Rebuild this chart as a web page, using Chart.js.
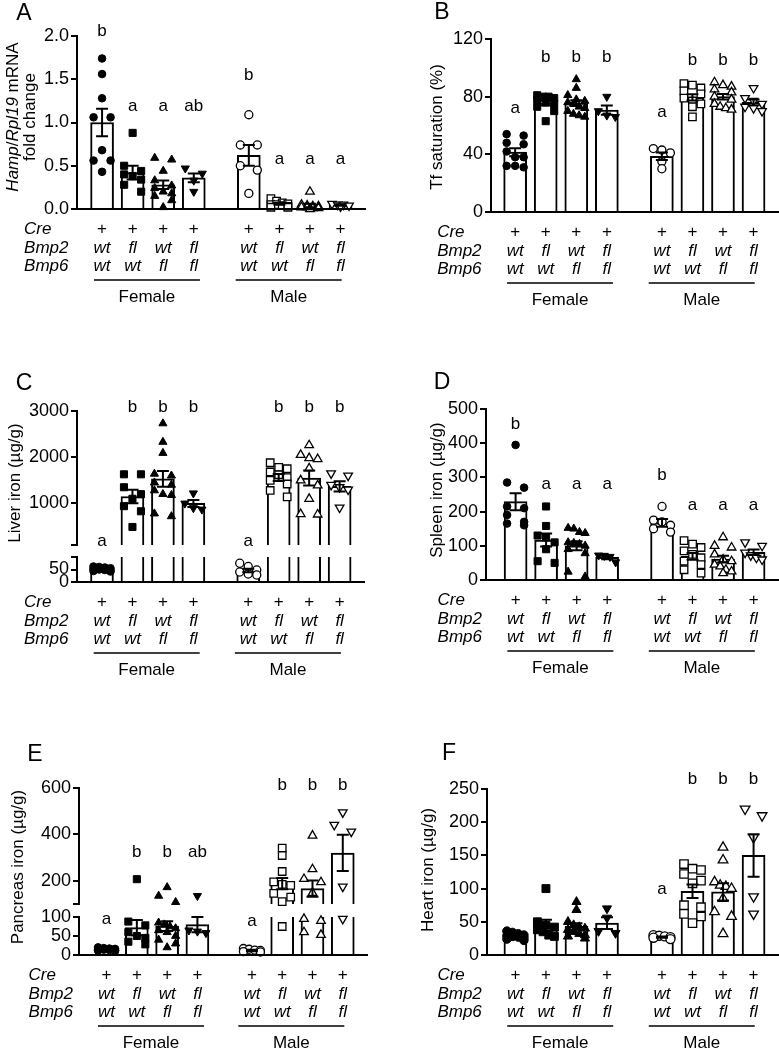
<!DOCTYPE html>
<html>
<head>
<meta charset="utf-8">
<title>Bmp2 / Bmp6 hepatocyte knockout – iron parameters</title>
<script src="https://cdn.jsdelivr.net/npm/chart.js@4.4.1/dist/chart.umd.min.js"></script>
<style>
  html, body { margin: 0; padding: 0; background: #fff; overflow: hidden; }
  #page { position: relative; width: 779px; height: 1050px; }
  #page canvas { position: absolute; }
</style>
</head>
<body>
<div id="page">
  <canvas id="pA"></canvas>
  <canvas id="pB"></canvas>
  <canvas id="pC"></canvas>
  <canvas id="pD"></canvas>
  <canvas id="pE"></canvas>
  <canvas id="pF"></canvas>
</div>
<script>
// ---- categories (4 female genotypes, then 4 male) ----
const SEXES = ['Female', 'Male'];
const ROW_NAMES = ['Cre', 'Bmp2', 'Bmp6'];
const CRE_ROW  = ['+', '+', '+', '+', '+', '+', '+', '+'];
const BMP2_ROW = ['wt', 'fl', 'wt', 'fl', 'wt', 'fl', 'wt', 'fl'];
const BMP6_ROW = ['wt', 'wt', 'fl', 'fl', 'wt', 'wt', 'fl', 'fl'];

// ---- A: Hamp/Rpl19 mRNA fold change ----
const A_MEAN = [1.00, 0.42, 0.28, 0.36, 0.62, 0.06, 0.04, 0.045];
const A_SEM  = [0.16, 0.08, 0.05, 0.05, 0.12, 0.01, 0.02, 0.006];
const A_POINTS = [
  [1.74, 1.56, 1.28, 1.06, 1.06, 0.68, 0.56, 0.56, 0.43],
  [0.88, 0.50, 0.44, 0.40, 0.38, 0.34, 0.28, 0.20],
  [0.59, 0.57, 0.44, 0.33, 0.27, 0.24, 0.20, 0.18, 0.15, 0.10, 0.02],
  [0.47, 0.41, 0.33, 0.20],
  [1.09, 0.74, 0.74, 0.50, 0.45, 0.18],
  [0.12, 0.09, 0.07, 0.06, 0.05, 0.05, 0.04, 0.03, 0.02, 0.02],
  [0.20, 0.05, 0.04, 0.03, 0.03, 0.02, 0.02, 0.01, 0.01, 0.00],
  [0.06, 0.05, 0.05, 0.04, 0.03]
];
const A_LETTERS  = ['b', 'a', 'a', 'ab', 'b', 'a', 'a', 'a'];
const A_LETTER_AT = [2.05, 1.19, 1.19, 1.19, 1.55, 0.57, 0.57, 0.57];
const A_TICKS = [0, 0.5, 1.0, 1.5, 2.0];

// ---- B: Tf saturation (%) ----
const B_MEAN = [41.5, 75.5, 75.5, 70.7, 38.6, 79.5, 80.0, 76.0];
const B_SEM  = [2.8, 1.7, 2.0, 3.2, 2.6, 2.2, 1.9, 2.0];
const B_POINTS = [
  [54, 53, 48, 47, 42, 38, 38, 32, 31, 32],
  [81, 80, 80, 79, 78, 76, 75, 73, 70, 63],
  [92, 86, 81, 78, 77, 76, 75, 73, 72, 70, 68, 67, 66],
  [80, 70, 67, 66],
  [44, 43, 41, 35, 30],
  [89, 88, 86, 84, 82, 79, 77, 75, 73, 66],
  [90, 88, 87, 85, 83, 80, 78, 75, 73, 72, 71],
  [86, 79, 77, 75, 73, 72, 70]
];
const B_LETTERS  = ['a', 'b', 'b', 'b', 'a', 'b', 'b', 'b'];
const B_LETTER_AT = [72, 107, 107, 107, 69, 105, 105, 105];
const B_TICKS = [0, 40, 80, 120];

// ---- C: Liver iron (µg/g), broken axis ----
const C_MEAN = [52, 1150, 1530, 1000, 46, 1560, 1550, 1370];
const C_SEM  = [2, 145, 170, 75, 7, 75, 165, 110];
const C_POINTS = [
  [62, 60, 58, 55, 52, 50, 48, 46, 44, 42],
  [1630, 1630, 1350, 1200, 1100, 940, 830, 490],
  [2730, 2330, 2090, 1640, 1600, 1450, 1400, 1280, 1200, 1180, 780, 720],
  [1220, 1000, 900, 870],
  [75, 62, 48, 40, 32, 28],
  [1880, 1780, 1750, 1680, 1620, 1560, 1500, 1420, 1280, 1140],
  [2260, 2050, 1980, 1960, 1760, 1500, 1390, 1100, 770, 760],
  [1650, 1600, 1400, 1350, 1300, 910]
];
const C_LETTERS  = ['a', 'b', 'b', 'b', 'a', 'b', 'b', 'b'];
const C_LETTER_AT = [170, 3090, 3090, 3090, 170, 3090, 3090, 3090];
const C_TICKS_LOW  = [0, 50];
const C_TICKS_HIGH = [1000, 2000, 3000];
const C_BREAK = [100, 100];

// ---- D: Spleen iron (µg/g) ----
const D_MEAN = [229, 117, 100, 66, 167, 69, 61, 81];
const D_SEM  = [25, 19, 13, 5, 11, 10, 10, 8];
const D_POINTS = [
  [395, 285, 270, 215, 210, 190, 170, 165, 160],
  [215, 158, 130, 125, 110, 90, 55, 50],
  [152, 150, 140, 137, 110, 108, 105, 100, 90, 78, 24, 10],
  [72, 71, 68, 52],
  [215, 175, 170, 160, 150, 140],
  [115, 105, 95, 85, 75, 65, 55, 45, 30, 20],
  [125, 100, 95, 75, 60, 55, 45, 40, 30, 25, 20],
  [110, 100, 80, 72, 65, 60]
];
const D_LETTERS  = ['b', 'a', 'a', 'a', 'b', 'a', 'a', 'a'];
const D_LETTER_AT = [455, 281, 281, 281, 305, 218, 218, 218];
const D_TICKS = [0, 100, 200, 300, 400, 500];

// ---- E: Pancreas iron (µg/g), broken axis ----
const E_MEAN = [15, 72, 76, 80, 12, 188, 166, 320];
const E_SEM  = [1, 20, 13, 20, 2, 24, 35, 78];
const E_POINTS = [
  [20, 18, 17, 16, 15, 14, 13, 12, 12, 11],
  [207, 88, 78, 60, 50, 45, 35, 28],
  [172, 135, 108, 85, 80, 75, 70, 65, 60, 50, 40, 30, 20],
  [135, 65, 62, 58],
  [17, 15, 13, 12, 9, 8],
  [341, 309, 240, 195, 185, 180, 146, 130, 110, 75],
  [395, 250, 208, 194, 148, 95, 90, 60, 53],
  [495, 441, 412, 175, 95]
];
const E_LETTERS  = ['a', 'b', 'b', 'ab', 'a', 'b', 'b', 'b'];
const E_LETTER_AT = [93, 322, 322, 322, 88, 610, 610, 610];
const E_TICKS_LOW  = [0, 50, 100];
const E_TICKS_HIGH = [200, 400, 600];
const E_BREAK = [100, 100];

// ---- F: Heart iron (µg/g) ----
const F_MEAN = [28, 45, 43, 48, 27, 96, 95, 150];
const F_SEM  = [1.5, 8, 5, 9, 1, 10, 13, 32];
const F_POINTS = [
  [36, 34, 32, 30, 29, 28, 27, 26, 24, 22],
  [100, 50, 45, 42, 38, 35, 30, 28],
  [80, 68, 50, 45, 42, 40, 38, 35, 32, 30, 28, 25],
  [70, 56, 36, 33],
  [30, 29, 28, 27, 26, 24],
  [137, 130, 128, 122, 112, 108, 75, 72, 62, 58, 48],
  [162, 143, 110, 105, 103, 100, 85, 65, 58, 32],
  [220, 210, 177, 88, 62]
];
const F_LETTERS  = ['', '', '', '', 'a', 'b', 'b', 'b'];
const F_LETTER_AT = [null, null, null, null, 99, 264, 264, 264];
const F_TICKS = [0, 50, 100, 150, 200, 250];

// ---- look ----
const FONT = "'Liberation Sans', Arial, Helvetica, sans-serif";
const FS = 17;
const TICK_FS = 18;
const GROUP_GAP = 0.8;
const POS = [1, 2, 3, 4].concat([1, 2, 3, 4].map(v => v + 4 + GROUP_GAP));
const X_MAX = 9.6;
const Y_BOX = 50;
const CAP = 6;
const SHAPES = ['circle', 'rect', 'triangle', 'triangleDown'];
const MARK_R = {circle: 3.8, rect: 5.0, triangle: 4.7, triangleDown: 4.7};
const ROW_DY = [20, 39, 57];
const LINE_DY = 71, SEX_DY = 88;
const SEX_SHIFT = [-1, -6];

const LAYOUT = {
  A: {canvas: [0, 0, 390, 340], area: [77, 36, 365, 209], xMin: 0.18, title: {x: [13, 30], y: 117}, tag: [24, 14]},
  B: {canvas: [390, 0, 389, 340], area: [491, 39, 778, 212], xMin: 0.21, title: {x: [437], y: 127}, tag: [442, 13]},
  C: {canvas: [0, 340, 390, 340], area: [77, 411, 364, 582], xMin: 0.18, seg: [134, 12, 25], title: {x: [15], y: 483}, tag: [24, 384]},
  D: {canvas: [390, 340, 389, 340], area: [486, 409, 778, 580], xMin: 0.03, title: {x: [437], y: 490}, tag: [442, 383]},
  E: {canvas: [0, 680, 390, 370], area: [79, 788, 367, 955], xMin: 0.09, seg: [116, 13, 38], title: {x: [18], y: 867}, tag: [35, 755]},
  F: {canvas: [390, 680, 389, 370], area: [487, 789, 778, 955], xMin: 0.07, mark: 1.12, title: {x: [428], y: 870}, tag: [449, 754]}
};

// Prism-like scatter: points of one group at about the same height
// go side by side in a row spread over the bar
function swarm(ys) {
  const ROW_H = 7, HALF = 8.5, PER_ROW = 4;
  const order = ys.map((_, i) => i).sort((a, b) => ys[a] - ys[b]);
  const out = new Array(ys.length).fill(0);
  const rows = [];
  let row = [];
  for (const i of order) {
    if (row.length && (ys[i] - ys[row[0]] >= ROW_H || row.length >= PER_ROW)) { rows.push(row); row = []; }
    row.push(i);
  }
  if (row.length) rows.push(row);
  rows.forEach(r => {
    const n = r.length;
    const step = n > 1 ? (2 * HALF) / (n - 1) : 0;
    r.forEach((i, j) => { out[i] = (j - (n - 1) / 2) * step; });
  });
  return out;
}

function richText(ctx, parts, x, y) {
  const fonts = parts.map(p => (p[1] ? 'italic ' : '') + FS + 'px ' + FONT);
  let total = 0;
  const widths = parts.map((p, i) => { ctx.font = fonts[i]; const w = ctx.measureText(p[0]).width; total += w; return w; });
  let px = x - total / 2;
  ctx.textAlign = 'left';
  parts.forEach((p, i) => { ctx.font = fonts[i]; ctx.fillText(p[0], px, y); px += widths[i]; });
}

function buildPanel(spec) {
  const lay = LAYOUT[spec.id];
  const [cx, cy, cw, ch] = lay.canvas;
  const [al, at, ar, ab] = lay.area;
  const cv = document.getElementById('p' + spec.id);
  cv.width = cw; cv.height = ch;
  cv.style.left = cx + 'px'; cv.style.top = cy + 'px';
  const broken = Boolean(spec.brk);
  const axisOf = v => (broken ? (v > spec.brk[0] ? 'yHigh' : 'yLow') : 'y');
  const fmt = v => v.toFixed(spec.decimals || 0);

  function valueAxis(min, max, labelled) {
    return {
      type: 'linear', axis: 'y', position: 'left', min, max,
      border: {display: true, width: 2, color: '#000', z: 1},
      grid: {display: true, drawOnChartArea: false, drawTicks: true, tickLength: 6, lineWidth: 2, color: '#000'},
      ticks: {color: '#000', padding: 2, autoSkip: false, font: {family: FONT, size: TICK_FS},
              callback: v => (labelled.includes(v) ? fmt(v) : '')},
      afterBuildTicks: s => { s.ticks = [...new Set([min, ...labelled, max])].sort((a, b) => a - b).map(v => ({value: v})); },
      afterFit: s => { s.width = Y_BOX; }
    };
  }

  const scales = {
    x: {
      type: 'linear', min: lay.xMin, max: X_MAX, offset: false,
      border: {display: true, width: 2, color: '#000', z: 1},
      grid: {display: true, offset: false, drawOnChartArea: false, drawTicks: false},
      ticks: {display: false},
      afterBuildTicks: s => { s.ticks = POS.map(v => ({value: v})); },
      afterFit: s => { s.height = 0; }
    }
  };
  if (broken) {
    scales.yLow = Object.assign(valueAxis(0, spec.brk[0], spec.ticksLow), {stack: 'val', stackWeight: lay.seg[2]});
    scales.yGap = {type: 'linear', axis: 'y', position: 'left', min: 0, max: 1, stack: 'val', stackWeight: lay.seg[1],
                   border: {display: false}, grid: {display: false}, ticks: {display: false},
                   afterFit: s => { s.width = Y_BOX; }};
    scales.yHigh = Object.assign(valueAxis(spec.brk[1], Math.max(...spec.ticksHigh), spec.ticksHigh), {stack: 'val', stackWeight: lay.seg[0]});
  } else {
    scales.y = valueAxis(0, Math.max(...spec.ticks), spec.ticks);
  }

  const datasets = [];
  const barCommon = {type: 'bar', xAxisID: 'x', order: 3, backgroundColor: '#fff', borderColor: '#000',
                     barThickness: 23, grouped: false, categoryPercentage: 1, barPercentage: 1};
  if (broken) {
    const lo = spec.brk[0];
    datasets.push(Object.assign({}, barCommon, {
      label: 'mean (low)', yAxisID: 'yLow', borderSkipped: false,
      data: POS.map((x, g) => ({x, y: [0, Math.min(spec.mean[g], lo)]})),
      borderWidth: c => ({left: 2, right: 2, bottom: 0, top: spec.mean[c.dataIndex] <= lo ? 2 : 0})
    }));
    datasets.push(Object.assign({}, barCommon, {
      label: 'mean (high)', yAxisID: 'yHigh', borderSkipped: false,
      data: POS.map((x, g) => ({x, y: spec.mean[g] > lo ? [spec.brk[1], spec.mean[g]] : null})).filter(d => d.y),
      borderWidth: {left: 2, right: 2, bottom: 0, top: 2}
    }));
  } else {
    datasets.push(Object.assign({}, barCommon, {
      label: 'mean', yAxisID: 'y', borderSkipped: 'start', borderWidth: 2,
      data: POS.map((x, g) => ({x, y: spec.mean[g]}))
    }));
  }

  const slot = {};
  const axes = broken ? ['yLow', 'yHigh'] : ['y'];
  spec.points.forEach((vals, g) => {
    const shape = SHAPES[g % 4];
    const filled = g < 4;
    const r = MARK_R[shape] * (lay.mark || 1) * (filled ? 1 : 1.06);
    axes.forEach(axis => {
      const ds = {
        type: 'scatter', label: SEXES[g < 4 ? 0 : 1] + ' ' + BMP2_ROW[g] + '/' + BMP6_ROW[g],
        xAxisID: 'x', yAxisID: axis, data: [], order: 1, clip: false,
        pointStyle: shape === 'triangleDown' ? 'triangle' : shape,
        pointRotation: shape === 'triangleDown' ? 180 : 0,
        pointRadius: r, pointHoverRadius: r,
        pointBackgroundColor: filled ? '#000' : '#fff',
        pointBorderColor: '#000', pointBorderWidth: filled ? 1 : 1.3
      };
      slot[g + axis] = ds;
      datasets.push(ds);
    });
  });

  const decor = {
    id: 'decor',
    afterDatasetsDraw(chart) {
      const ctx = chart.ctx, xs = chart.scales.x;
      ctx.save();
      ctx.strokeStyle = '#000'; ctx.lineWidth = 2;
      spec.mean.forEach((m, g) => {
        const ax = chart.scales[axisOf(m)];
        const x = xs.getPixelForValue(POS[g]);
        const yT = ax.getPixelForValue(m + spec.sem[g]);
        const yB = ax.getPixelForValue(m - spec.sem[g]);
        ctx.beginPath();
        ctx.moveTo(x, yT); ctx.lineTo(x, yB);
        ctx.moveTo(x - CAP, yT); ctx.lineTo(x + CAP, yT);
        ctx.moveTo(x - CAP, yB); ctx.lineTo(x + CAP, yB);
        ctx.stroke();
      });
      ctx.restore();
    },
    afterDraw(chart) {
      const ctx = chart.ctx, xs = chart.scales.x;
      const base = chart.chartArea.bottom;
      const px = g => xs.getPixelForValue(POS[g]);
      ctx.save();
      ctx.fillStyle = '#000'; ctx.strokeStyle = '#000';
      ctx.textBaseline = 'middle';

      // significance letters
      ctx.font = FS + 'px ' + FONT; ctx.textAlign = 'center';
      spec.letters.forEach((t, g) => {
        if (!t) return;
        const v = spec.letterAt[g];
        ctx.fillText(t, px(g), chart.scales[axisOf(v)].getPixelForValue(v));
      });

      // genotype table under the axis
      ctx.font = 'italic ' + FS + 'px ' + FONT; ctx.textAlign = 'left';
      const x0 = px(0) - 78;
      ROW_NAMES.forEach((n, r) => ctx.fillText(n, x0, base + ROW_DY[r]));
      [CRE_ROW, BMP2_ROW, BMP6_ROW].forEach((row, r) => {
        row.forEach((t, g) => {
          ctx.font = (t === '+' ? '' : 'italic ') + FS + 'px ' + FONT;
          ctx.textAlign = 'center';
          ctx.fillText(t, px(g), base + ROW_DY[r]);
        });
      });
      SEXES.forEach((s, k) => {
        const c = (px(k * 4) + px(k * 4 + 3)) / 2 + SEX_SHIFT[k];
        ctx.lineWidth = 1.5;
        ctx.beginPath(); ctx.moveTo(c - 53, base + LINE_DY); ctx.lineTo(c + 53, base + LINE_DY); ctx.stroke();
        ctx.font = FS + 'px ' + FONT; ctx.textAlign = 'center';
        ctx.fillText(s, c, base + SEX_DY);
      });

      // y-axis title
      spec.title.forEach((line, l) => {
        ctx.save();
        ctx.translate(lay.title.x[l] - cx, lay.title.y - cy);
        ctx.rotate(-Math.PI / 2);
        richText(ctx, line, 0, 0);
        ctx.restore();
      });

      // panel tag
      ctx.font = '23px ' + FONT; ctx.textAlign = 'center';
      ctx.fillText(spec.id, lay.tag[0] - cx, lay.tag[1] - cy);
      ctx.restore();
    }
  };

  const chart = new Chart(cv, {
    type: 'bar',
    data: {datasets},
    options: {
      responsive: false, animation: false, devicePixelRatio: 1, events: [],
      layout: {autoPadding: false, padding: {left: al - cx - Y_BOX, top: at - cy, right: cx + cw - ar, bottom: cy + ch - ab}},
      plugins: {legend: {display: false}, tooltip: {enabled: false}},
      scales
    },
    plugins: [decor]
  });

  // place the individual animals using the chart's own scales
  const xs = chart.scales.x;
  const unit = xs.getPixelForValue(1) - xs.getPixelForValue(0);
  spec.points.forEach((vals, g) => {
    const ys = vals.map(v => chart.scales[axisOf(v)].getPixelForValue(v));
    const dx = swarm(ys);
    vals.forEach((v, k) => slot[g + axisOf(v)].data.push({x: POS[g] + dx[k] / unit, y: v}));
  });
  chart.update();
  return chart;
}

buildPanel({id: 'A', mean: A_MEAN, sem: A_SEM, points: A_POINTS, letters: A_LETTERS, letterAt: A_LETTER_AT,
            ticks: A_TICKS, decimals: 1,
            title: [[['Hamp', 1], ['/', 0], ['Rpl19', 1], [' mRNA', 0]], [['fold change', 0]]]});
buildPanel({id: 'B', mean: B_MEAN, sem: B_SEM, points: B_POINTS, letters: B_LETTERS, letterAt: B_LETTER_AT,
            ticks: B_TICKS, title: [[['Tf saturation (%)', 0]]]});
buildPanel({id: 'C', mean: C_MEAN, sem: C_SEM, points: C_POINTS, letters: C_LETTERS, letterAt: C_LETTER_AT,
            ticksLow: C_TICKS_LOW, ticksHigh: C_TICKS_HIGH, brk: C_BREAK, title: [[['Liver iron (µg/g)', 0]]]});
buildPanel({id: 'D', mean: D_MEAN, sem: D_SEM, points: D_POINTS, letters: D_LETTERS, letterAt: D_LETTER_AT,
            ticks: D_TICKS, title: [[['Spleen iron (µg/g)', 0]]]});
buildPanel({id: 'E', mean: E_MEAN, sem: E_SEM, points: E_POINTS, letters: E_LETTERS, letterAt: E_LETTER_AT,
            ticksLow: E_TICKS_LOW, ticksHigh: E_TICKS_HIGH, brk: E_BREAK, title: [[['Pancreas iron (µg/g)', 0]]]});
buildPanel({id: 'F', mean: F_MEAN, sem: F_SEM, points: F_POINTS, letters: F_LETTERS, letterAt: F_LETTER_AT,
            ticks: F_TICKS, title: [[['Heart iron (µg/g)', 0]]]});
</script>
</body>
</html>
